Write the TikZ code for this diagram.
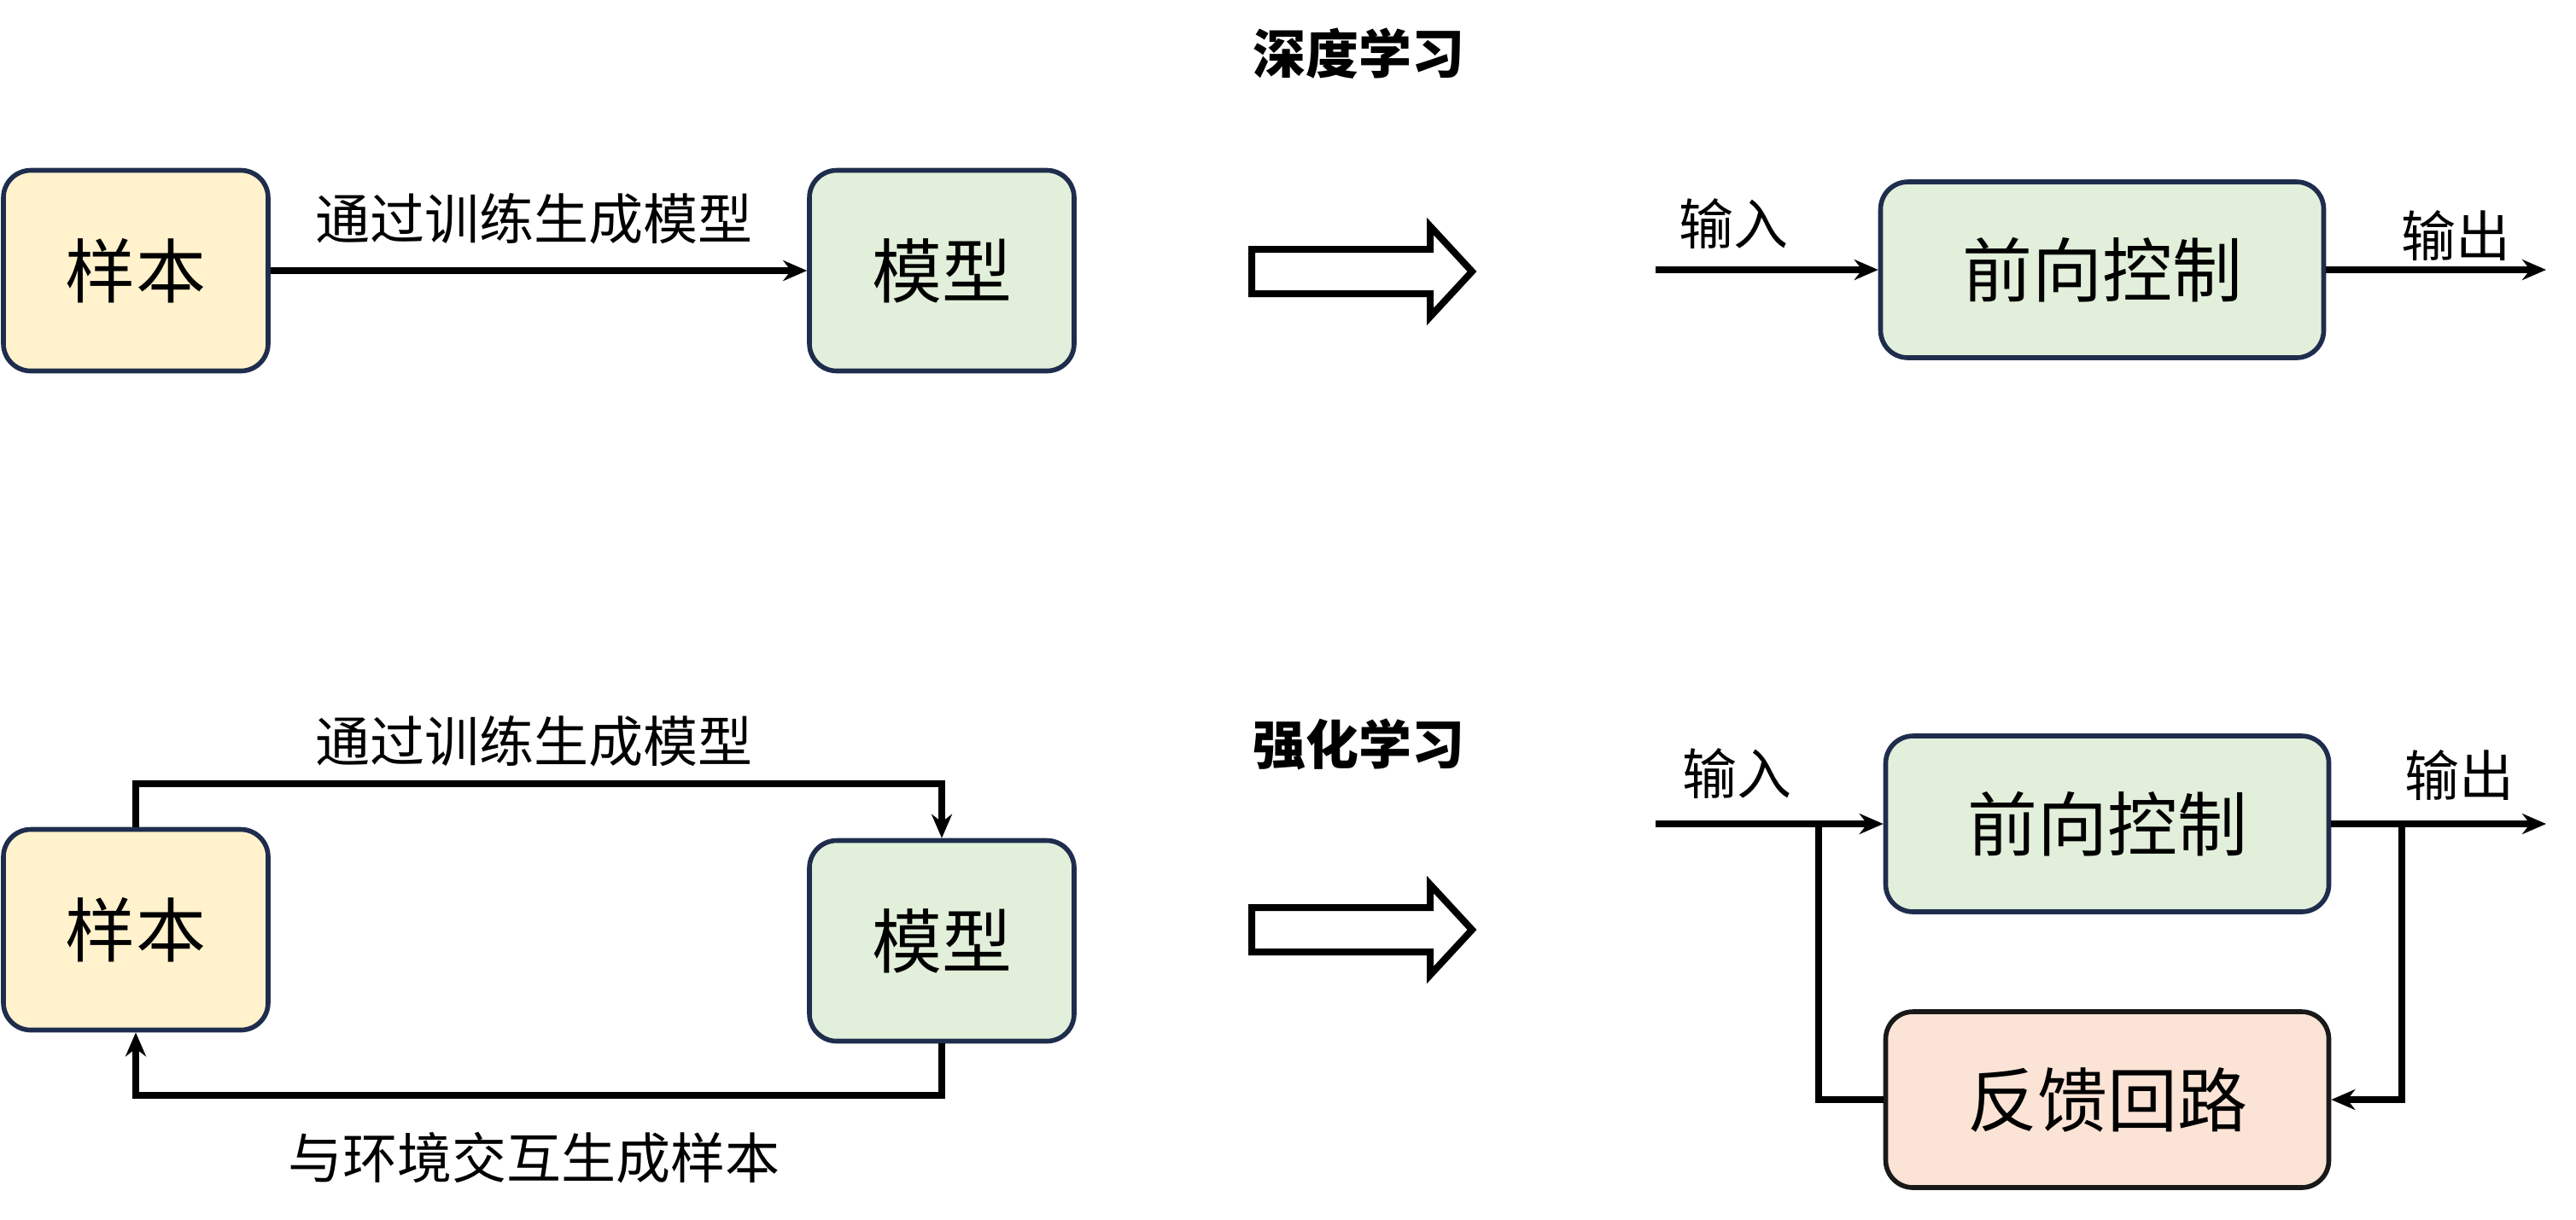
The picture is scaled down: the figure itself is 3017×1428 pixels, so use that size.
\documentclass[tikz,border=0pt]{standalone}
\usepackage{fontspec}
\newfontfamily\cjk{Noto Sans CJK SC}
\usetikzlibrary{arrows.meta}
\definecolor{yel}{HTML}{FFF2CC}
\definecolor{grn}{HTML}{E2EFDA}
\definecolor{pch}{HTML}{FBE3D5}
\definecolor{navy}{HTML}{1F2D4D}
\begin{document}
\begin{tikzpicture}[x=0.25pt,y=-0.25pt,
  box/.style={draw=navy, line width=1.4pt, rounded corners=8pt, inner sep=0pt,
    minimum width=77.5pt, minimum height=58.75pt, font=\cjk\fontsize{20.5}{24}\selectfont},
  wide/.style={box, minimum width=129.75pt, minimum height=51.5pt},
  lbl/.style={font=\cjk\fontsize{16}{19}\selectfont, inner sep=0pt},
  ttl/.style={font=\cjk\bfseries\fontsize{15.5}{18}\selectfont, inner sep=0pt},
  conn/.style={line width=1.8pt, -{Stealth[length=7pt,width=6pt]}},
  plain/.style={line width=1.8pt},
  bigarrow/.style={draw=black, line width=2pt, line join=miter, fill=white}]
\useasboundingbox (0,0) rectangle (3017,1428);

% ---------- top row: deep learning ----------
\node[ttl] (t1) at (1591,63) {深度学习};
\node[box, fill=yel] (s1) at (159,317) {样本};
\node[box, fill=grn] (m1) at (1103,317) {模型};
\draw[conn] (s1) -- (m1);
\node[lbl] (l1) at (625,256) {通过训练生成模型};

\draw[bigarrow] (1466,292) -- (1675,292) -- (1675,265) -- (1724,318) -- (1675,371) -- (1675,344) -- (1466,344) -- cycle;

\node[wide, fill=grn] (f1) at (2462,316) {前向控制};
\coordinate (in1) at (1939,316);
\coordinate (out1) at (2982,316);
\draw[conn] (in1) -- (f1.west);
\draw[conn] (f1.east) -- (out1);
\node[lbl] (li1) at (2030,262) {输入};
\node[lbl] (lo1) at (2876,276) {输出};

% ---------- bottom row: reinforcement learning ----------
\node[ttl] (t2) at (1591,872) {强化学习};
\node[box, fill=yel] (s2) at (159,1089) {样本};
\node[box, fill=grn] (m2) at (1103,1102) {模型};
\coordinate (top2) at (625,918);
\coordinate (bot2) at (625,1283);
\draw[conn] (s2.north) -- (s2.north |- top2) -- (m2.north |- top2) -- (m2.north);
\draw[conn] (m2.south) -- (m2.south |- bot2) -- (s2.south |- bot2) -- (s2.south);
\node[lbl] (l2) at (625,868) {通过训练生成模型};
\node[lbl] (l3) at (625,1356) {与环境交互生成样本};

\draw[bigarrow] (1466,1063) -- (1675,1063) -- (1675,1036) -- (1724,1089) -- (1675,1142) -- (1675,1115) -- (1466,1115) -- cycle;

\node[wide, fill=grn] (f2) at (2468,965) {前向控制};
\node[wide, fill=pch, draw=black!90] (fb) at (2468,1288) {反馈回路};
\coordinate (in2) at (1939,965);
\coordinate (out2) at (2982,965);
\coordinate (j1) at (2130,965);
\coordinate (j2) at (2813,965);
\draw[conn] (in2) -- (f2.west);
\draw[conn] (f2.east) -- (out2);
\draw[plain] (fb.west) -- (j1 |- fb.west) -- (j1);
\draw[conn] (j2) -- (j2 |- fb.east) -- (fb.east);
\node[lbl] (li2) at (2034,906) {输入};
\node[lbl] (lo2) at (2880,908) {输出};
\end{tikzpicture}
\end{document}
